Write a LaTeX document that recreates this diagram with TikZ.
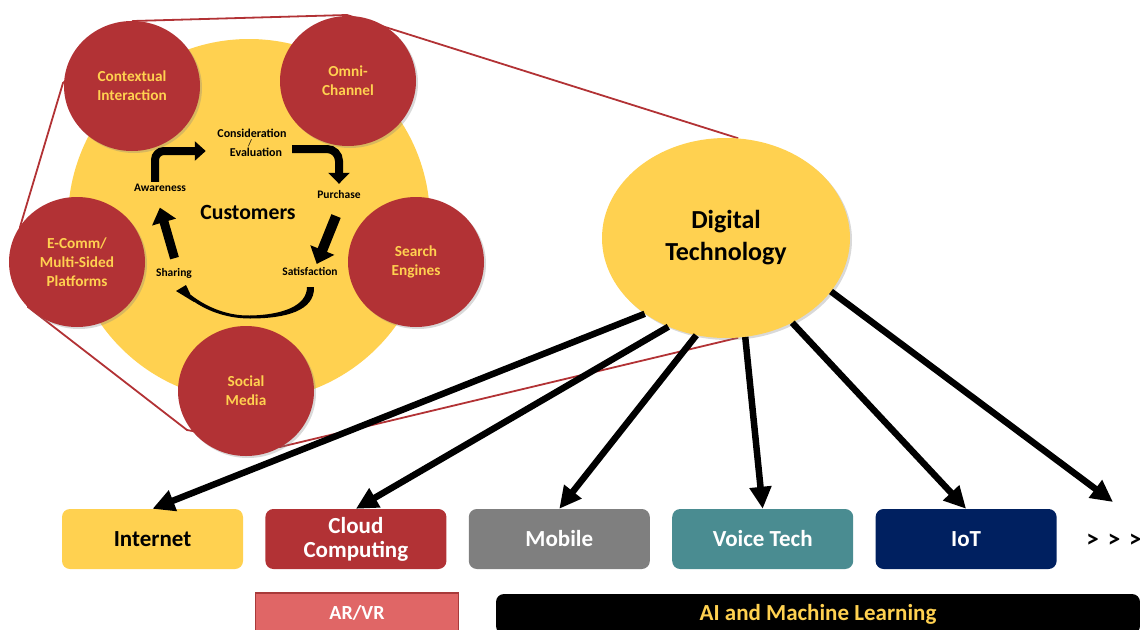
\documentclass[tikz,border=0pt]{standalone}
\usepackage{fontspec}
\setmainfont{Carlito}
\usetikzlibrary{shapes,arrows.meta,positioning,calc,backgrounds,shadows}
\definecolor{sun}{HTML}{FFD150}
\definecolor{brick}{HTML}{B23235}
\definecolor{stone}{HTML}{7F7F7F}
\definecolor{lagoon}{HTML}{4A8C91}
\definecolor{navy}{HTML}{002060}
\definecolor{coral}{HTML}{E06666}
\definecolor{coraledge}{HTML}{A83A3A}

\tikzset{
  hub/.style={ellipse, fill=brick, minimum width=136pt, minimum height=130pt, inner sep=0pt,
    align=center, text=sun, font=\fontsize{15.3}{19}\selectfont\bfseries,
    drop shadow={shadow xshift=2pt, shadow yshift=-2pt, opacity=0.3}},
  stage/.style={inner sep=1pt, text height=8pt, text depth=2pt, font=\fontsize{11.5}{13}\selectfont\bfseries},
  cyc/.style={line width=8pt, -{Triangle[length=11pt,width=19pt]}},
  techbox/.style={rounded corners=8pt, minimum width=181pt, minimum height=60pt, align=center,
    text=white, font=\fontsize{23}{24}\selectfont\bfseries},
  techarrow/.style={line width=6.5pt, -{Triangle[length=22pt,width=21pt]}},
}

\begin{document}
\begin{tikzpicture}[x=1pt,y=-1pt]
\useasboundingbox (0,0) rectangle (1140,629);

% customers and their touch points
\node[circle, fill=sun, minimum size=362pt, inner sep=0pt] (cust) at (249,220) {};
\node[font=\fontsize{21.7}{24}\selectfont\bfseries] (custlbl) at (248,212) {Customers};

\node[hub] (context) at (132,86) {Contextual\\Interaction};
\node[hub] (omni) at (348,81) {Omni-\\Channel};
\node[hub] (ecomm) at (77,262) {E-Comm/\\Multi-Sided\\Platforms};
\node[hub] (search) at (416,262) {Search\\Engines};
\node[hub] (social) at (246,391) {Social\\Media};

% journey stages
\node[stage] (aware) at (160,188) {Awareness};
\node[stage, font=\fontsize{12}{13}\selectfont\bfseries] (consid) at (252,134) {Consideration};
\node[inner sep=0pt, font=\fontsize{10}{10}\selectfont] (slash) at (250,143) {/};
\node[stage, font=\fontsize{12}{13}\selectfont\bfseries] (evalu) at (256,153) {Evaluation};
\node[stage] (purch) at (339,195) {Purchase};
\node[stage] (satis) at (310,272) {Satisfaction};
\node[stage] (share) at (174,273) {Sharing};

\draw[cyc, rounded corners=9pt] ([xshift=-5pt]aware.north) |- ([xshift=-23pt,yshift=2pt]evalu.west);
\draw[cyc, rounded corners=12pt, -{Triangle[length=11pt,width=21pt]}]
  ([xshift=9pt,yshift=4pt]evalu.east) -| ([yshift=5pt]purch.north);
\draw[line width=10pt, -{Triangle[length=15pt,width=25pt]}, shorten <=16pt, shorten >=2pt]
  ([xshift=3pt]purch.south) -- ([xshift=6pt]satis.north);
\draw[line width=9pt, -{Triangle[length=15pt,width=24pt]}, shorten <=9pt, shorten >=14pt]
  ([xshift=3pt]share.north) -- ([xshift=-4pt]aware.south);
% tapered swoop back to sharing
\fill (314,287) .. controls (315,311) and (285,318.5) .. (250,318.5)
  .. controls (224,318.5) and (203,309) .. (189,298) -- (191,295)
  .. controls (205,306) and (226,316) .. (250,315.5)
  .. controls (282,315) and (307,306) .. (307,287) -- cycle;
\fill (176,291) -- (186,285) -- (194,302) -- cycle;

% the technology hub
\node[ellipse, fill=sun, minimum width=248pt, minimum height=200pt, align=center,
  font=\fontsize{26}{32}\selectfont\bfseries,
  drop shadow={shadow xshift=2pt, shadow yshift=-2pt, opacity=0.3}] (dt) at (726,238) {Digital\\Technology};

% zoom outline behind everything
\begin{scope}[on background layer]
\draw[brick, line width=1.8pt] (dt.83) -- (347,15) -- (133,21) -- (63,83) -- (20,227) -- (28,307)
  -- (187,430) -- (280,447) -- (dt.277);
\end{scope}

% technologies
\node[techbox, fill=sun, text=black] (inet) at (152.5,539) {Internet};
\node[techbox, fill=brick, right=22pt of inet] (cloud) {Cloud\\Computing};
\node[techbox, fill=stone, right=22pt of cloud] (mobile) {Mobile};
\node[techbox, fill=lagoon, right=22pt of mobile] (voice) {Voice Tech};
\node[techbox, fill=navy, right=22pt of voice] (iot) {IoT};
\node[font=\fontsize{25}{26}\selectfont\bfseries] (more) at (1114,541) {>\hspace{9pt}>\hspace{9pt}>};
\coordinate (moretip) at (1113,502);

\foreach \ang/\dest in {223/inet.north, 237/cloud.north, 253/mobile.north, 281/voice.north, 308/iot.north, 333/moretip}
  \draw[techarrow] (dt.\ang) -- (\dest);

\node[draw=coraledge, line width=1.5pt, fill=coral, minimum width=203pt, minimum height=40pt,
  text=white, font=\fontsize{20}{22}\selectfont\bfseries] (arvr) at (357,613) {AR/VR};
\node[techbox, fill=black, text=sun, minimum width=644pt, minimum height=40pt] (ai) at (818,614) {AI and Machine Learning};
\end{tikzpicture}
\end{document}
